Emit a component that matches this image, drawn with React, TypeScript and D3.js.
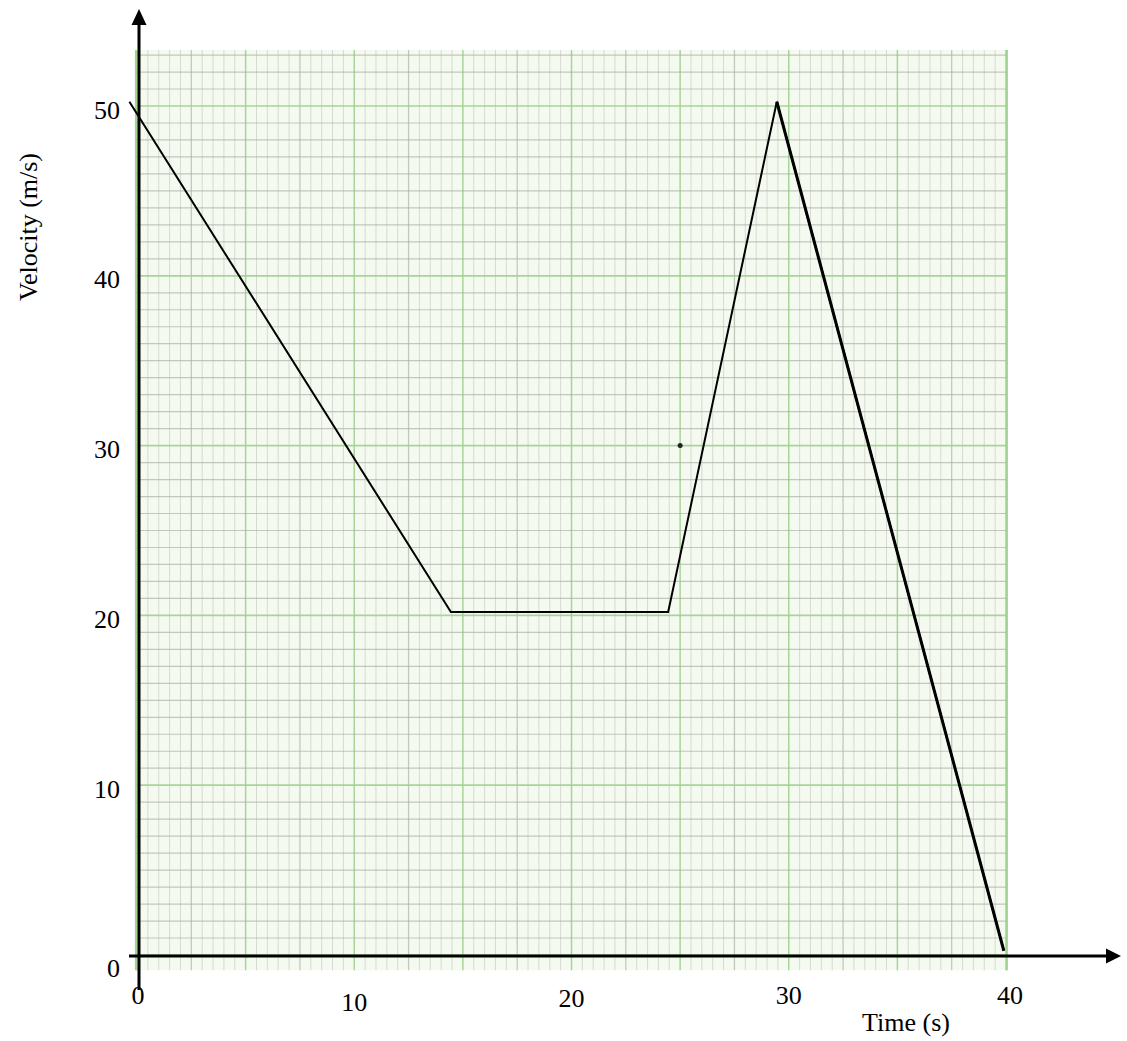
import React from "react";
import * as d3 from "d3";

const times = [-0.35, 14.45, 24.45, 29.45, 39.9];
const velocities = [50.25, 20.2, 20.2, 50.25, 0.25];
const xTicks = [0, 10, 20, 30, 40];
const yTicks = [0, 10, 20, 30, 40, 50];
const markTime = [25];
const markVelocity = [30];
const xTitle = "Time (s)";
const yTitle = "Velocity (m/s)";

const W = 1127;
const H = 1041;

export default function App() {
  const x = d3.scaleLinear().domain([0, 40]).range([137, 1006]);
  const y = d3.scaleLinear().domain([0, 50]).range([955, 106]);

  const gx0 = -0.05, gx1 = 40.04, gy0 = -0.9, gy1 = 53.3;
  const left = x(gx0), right = x(gx1), top = y(gy1), bottom = y(gy0);

  const vMinor = d3.range(0, 40.001, 0.5);
  const hMinor = d3.range(0, 53.001, 1);

  const line = d3
    .line<number>()
    .x((_, i) => x(times[i]))
    .y((d) => y(d));

  const last = velocities.length - 1;
  const font = "'Liberation Serif', 'Times New Roman', serif";

  return (
    <svg
      width={W}
      height={H}
      style={{ position: "absolute", left: 0, top: 0, background: "#fff" }}
    >
      {/* paper */}
      <rect x={left} y={top} width={right - left} height={bottom - top} fill="#f5faf1" />
      {/* vertical lines */}
      {vMinor.map((t) => {
        const isMajor = Math.abs(t % 5) < 1e-6;
        const isMid = Math.abs(t % 2.5) < 1e-6;
        return (
          <line
            key={"v" + t}
            x1={x(t)}
            x2={x(t)}
            y1={top}
            y2={bottom}
            stroke={isMajor ? "#9fd28f" : isMid ? "#a3a89c" : "#c3c6bd"}
            strokeWidth={isMajor ? 1.5 : isMid ? 1.3 : 1}
            opacity={isMajor ? 0.9 : 0.6}
          />
        );
      })}
      {/* horizontal lines */}
      {hMinor.map((v) => {
        const isMajor = Math.abs(v % 10) < 1e-6;
        return (
          <line
            key={"h" + v}
            x1={left}
            x2={right}
            y1={y(v)}
            y2={y(v)}
            stroke={isMajor ? "#9fd28f" : "#a9ada2"}
            strokeWidth={isMajor ? 1.7 : 1.2}
            opacity={isMajor ? 0.9 : 0.65}
          />
        );
      })}
      <line x1={left} x2={left} y1={top} y2={bottom} stroke="#9fd28f" strokeWidth={2} />
      <line x1={right} x2={right} y1={top} y2={bottom} stroke="#9fd28f" strokeWidth={2} />

      {/* data */}
      <path
        d={line(velocities) || ""}
        fill="none"
        stroke="#000"
        strokeWidth={2}
        strokeLinejoin="miter"
      />
      <line
        x1={x(times[last - 1])}
        y1={y(velocities[last - 1])}
        x2={x(times[last])}
        y2={y(velocities[last])}
        stroke="#000"
        strokeWidth={3}
      />
      {markTime.map((t, i) => (
        <circle key={"m" + i} cx={x(t)} cy={y(markVelocity[i])} r={2.5} fill="#222" />
      ))}

      {/* axes */}
      <line x1={x(0) + 2} x2={x(0) + 2} y1={990} y2={22} stroke="#000" strokeWidth={3} />
      <path
        d={`M${x(0) + 2},9 L${x(0) + 9.5},25 L${x(0) - 5.5},25 Z`}
        fill="#000"
      />
      <line x1={129} x2={1110} y1={y(0) + 1} y2={y(0) + 1} stroke="#000" strokeWidth={3} />
      <path
        d={`M1121,${y(0) + 1} L1106,${y(0) - 6.5} L1106,${y(0) + 8.5} Z`}
        fill="#000"
      />

      {/* tick labels */}
      {yTicks.map((v) => (
        <text
          key={"yl" + v}
          x={120}
          y={y(v) + (v === 0 ? 13 : 4)}
          textAnchor="end"
          dominantBaseline="central"
          fontFamily={font}
          fontSize={26}
          fill="#000"
        >
          {v}
        </text>
      ))}
      {xTicks.map((t) => (
        <text
          key={"xl" + t}
          x={x(t) + (t === 0 ? 1 : t === 40 ? 4 : 0)}
          y={t === 10 ? 1011 : t === 20 ? 1007 : 1004}
          textAnchor="middle"
          fontFamily={font}
          fontSize={26}
          fill="#000"
        >
          {t}
        </text>
      ))}

      {/* titles */}
      <text
        x={906}
        y={1031}
        textAnchor="middle"
        fontFamily={font}
        fontSize={26}
        fill="#000"
      >
        {xTitle}
      </text>
      <text
        transform={`translate(37,227) rotate(-90)`}
        textAnchor="middle"
        fontFamily={font}
        fontSize={26}
        fill="#000"
      >
        {yTitle}
      </text>
    </svg>
  );
}
